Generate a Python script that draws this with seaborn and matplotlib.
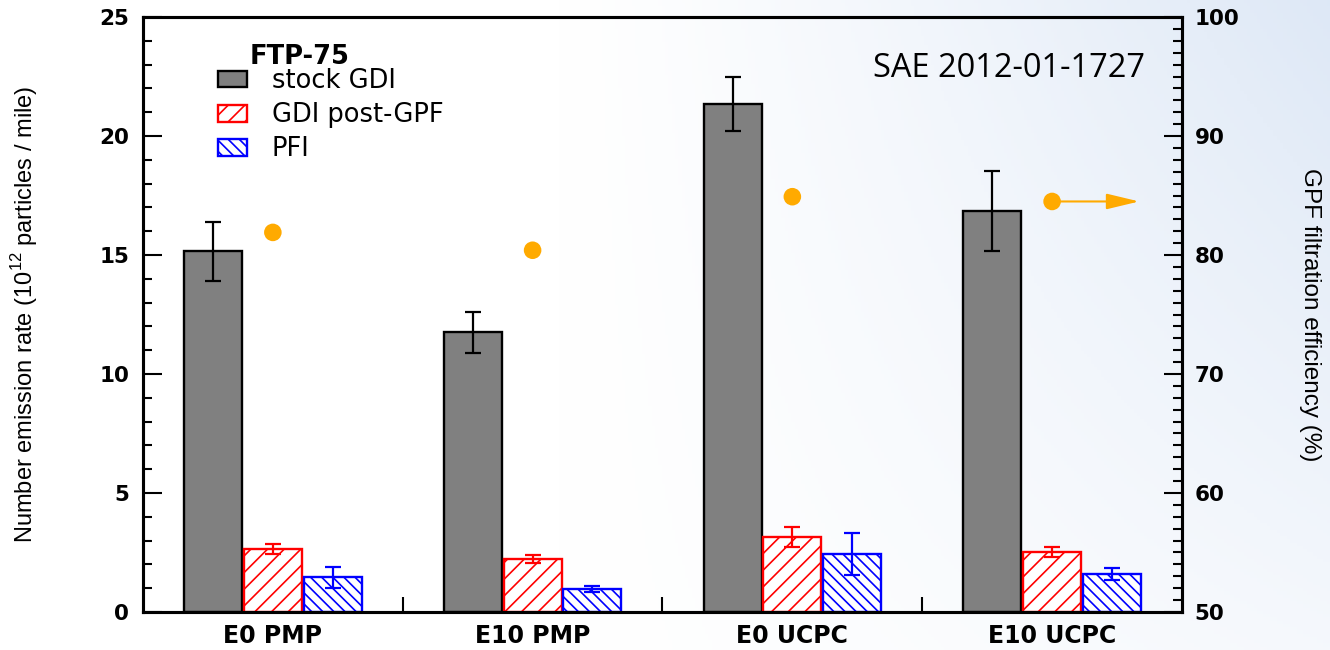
import numpy as np
import pandas as pd
import matplotlib
matplotlib.use("Agg")
import matplotlib.pyplot as plt
import seaborn as sns
from matplotlib.patches import Patch
from matplotlib.ticker import MultipleLocator, FixedLocator

# ---- data -------------------------------------------------------------
categories = ["E0 PMP", "E10 PMP", "E0 UCPC", "E10 UCPC"]
series = ["stock GDI", "GDI post-GPF", "PFI"]

stock_gdi = [15.15, 11.75, 21.35, 16.85]
stock_gdi_err = [1.25, 0.85, 1.15, 1.70]
post_gpf = [2.65, 2.21, 3.17, 2.52]
post_gpf_err = [0.20, 0.17, 0.42, 0.22]
pfi = [1.46, 0.97, 2.44, 1.60]
pfi_err = [0.44, 0.12, 0.87, 0.26]

filtration_eff = [81.9, 80.4, 84.9, 84.5]

# ---- style ------------------------------------------------------------
sns.set_theme(style="ticks")
plt.rcParams["font.family"] = ["DejaVu Sans"]
plt.rcParams["mathtext.fontset"] = "custom"
plt.rcParams["mathtext.rm"] = "Liberation Sans"
plt.rcParams["hatch.linewidth"] = 1.2
for key in ["text.color", "axes.labelcolor", "xtick.color", "ytick.color",
            "axes.edgecolor"]:
    plt.rcParams[key] = "black"

GRAY = "#808080"
RED = "#ff0000"
BLUE = "#0000ff"
ORANGE = "#ffaa00"
RED_HATCH = "//"
BLUE_HATCH = "\\\\\\"

df = pd.DataFrame({
    "test": categories * 3,
    "config": np.repeat(series, len(categories)),
    "rate": stock_gdi + post_gpf + pfi,
})

fig = plt.figure(figsize=(13.3, 6.5), dpi=100)

# soft white-to-blue backdrop, strongest in the upper right
bg = fig.add_axes([0, 0, 1, 1], zorder=-10)
gx = np.linspace(0, 1, 400)
gy = np.linspace(0, 1, 200)
X, Y = np.meshgrid(gx, gy)
t = np.clip((X - 0.42) / 0.58, 0, 1) ** 1.2 * (0.3 + 0.7 * (1 - Y))
c0 = np.array([1.0, 1.0, 1.0])
c1 = np.array([0.87, 0.91, 0.965])
img = c0[None, None, :] * (1 - t[..., None]) + c1[None, None, :] * t[..., None]
bg.imshow(img, aspect="auto", extent=[0, 1, 0, 1], origin="upper")
bg.axis("off")

ax = fig.add_axes([0.1075, 0.0585, 0.7812, 0.9153])
ax.patch.set_alpha(0)

sns.barplot(data=df, x="test", y="rate", hue="config", order=categories,
            hue_order=series, palette=[GRAY, "white", "white"], saturation=1,
            width=0.69, gap=0.03, errorbar=None, legend=False, ax=ax)

styles = [
    (GRAY, "black", None),
    ("white", RED, RED_HATCH),
    ("white", BLUE, BLUE_HATCH),
]
values = [stock_gdi, post_gpf, pfi]
errors = [stock_gdi_err, post_gpf_err, pfi_err]
err_colors = ["black", RED, BLUE]

for cont, (fc, ec, hatch), vals, errs, ecol in zip(ax.containers, styles, values, errors, err_colors):
    xs = []
    for bar in cont:
        bar.set_facecolor(fc)
        bar.set_edgecolor(ec)
        bar.set_linewidth(1.7)
        if hatch:
            bar.set_hatch(hatch)
        xs.append(bar.get_x() + bar.get_width() / 2)
    ax.errorbar(xs, vals, yerr=errs, fmt="none", ecolor=ecol, elinewidth=1.6,
                capsize=6, capthick=1.6, zorder=4)

ax.set_xlim(-0.5, 3.5)
ax.set_ylim(0, 25)
ax.set_xlabel("")
ax.set_ylabel(r"Number emission rate (10$^{12}$ particles / mile)",
              fontsize=17, family="Liberation Sans")
ax.yaxis.set_label_coords(-0.099, 0.5)

ax.yaxis.set_major_locator(MultipleLocator(5))
ax.yaxis.set_minor_locator(MultipleLocator(1))
ax.xaxis.set_minor_locator(FixedLocator([0.5, 1.5, 2.5]))
ax.tick_params(axis="y", which="major", direction="in", length=14, width=1.5,
               labelsize=15.5, pad=10)
ax.tick_params(axis="y", which="minor", direction="in", length=6.5, width=1.5)
ax.tick_params(axis="x", which="major", length=0, pad=9, labelsize=17)
ax.tick_params(axis="x", which="minor", direction="in", length=11, width=1.5)
for lbl in ax.get_yticklabels() + ax.get_xticklabels():
    lbl.set_fontweight("bold")
for sp in ax.spines.values():
    sp.set_linewidth(2.2)

# filtration efficiency on the right-hand scale
ax2 = ax.twinx()
ax2.patch.set_alpha(0)
ax2.set_ylim(50, 100)
ax2.scatter(np.arange(len(categories)), filtration_eff, s=160, color=ORANGE,
            edgecolors="none", zorder=5)
ax2.annotate("", xy=(3.335, filtration_eff[3]), xytext=(3, filtration_eff[3]),
             arrowprops=dict(arrowstyle="-|>,head_length=1.0,head_width=0.24",
                             mutation_scale=20, color=ORANGE, lw=1.5,
                             shrinkA=0, shrinkB=0))
ax2.yaxis.set_major_locator(MultipleLocator(10))
ax2.yaxis.set_minor_locator(MultipleLocator(1))
ax2.tick_params(axis="y", which="major", direction="in", length=13, width=1.5,
                labelsize=15.5, pad=9)
ax2.tick_params(axis="y", which="minor", direction="in", length=6.5, width=1.5)
for lbl in ax2.get_yticklabels():
    lbl.set_fontweight("bold")
ax2.set_ylabel("GPF filtration efficiency (%)", rotation=270, fontsize=17.5,
               family="Liberation Sans", va="center")
ax2.yaxis.set_label_coords(1.123, 0.5)
for sp in ax2.spines.values():
    sp.set_linewidth(2.2)

# legend
handles = [
    Patch(facecolor=GRAY, edgecolor="black", linewidth=1.7, label=series[0]),
    Patch(facecolor="white", edgecolor=RED, hatch=RED_HATCH, linewidth=1.7,
          label=series[1]),
    Patch(facecolor="white", edgecolor=BLUE, hatch=BLUE_HATCH, linewidth=1.7,
          label=series[2]),
]
leg = ax.legend(handles=handles, loc="upper left",
                bbox_to_anchor=(218 / 1330, 1 - 68 / 650),
                bbox_transform=fig.transFigure, frameon=False,
                fontsize=18.5, handlelength=1.13, handleheight=0.62,
                handletextpad=0.97, labelspacing=0.32, borderpad=0,
                borderaxespad=0)
fig.text(250 / 1330, 1 - 57 / 650, "FTP-75", fontsize=18.5,
         fontweight="bold", va="center", ha="left")
fig.text(873 / 1330, 1 - 77 / 650, "SAE 2012-01-1727", fontsize=23.5,
         family="Open Sans", va="baseline", ha="left")

fig.savefig("out.png", dpi=100)
